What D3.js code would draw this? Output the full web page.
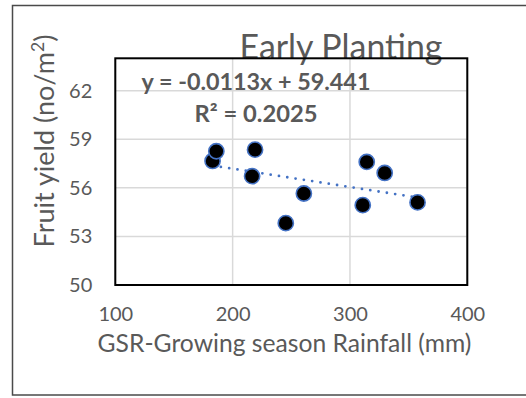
<!DOCTYPE html>
<html><head><meta charset="utf-8">
<script src="https://cdn.jsdelivr.net/npm/d3@7"></script>
<style>body{margin:0;background:#fff}svg{display:block}</style>
</head><body>
<svg id="c" width="526" height="398"></svg>
<script>
const rainfall = [182.9, 186.1, 216.6, 219.1, 245.3, 260.7, 310.9, 314.3, 329.6, 357.6];
const fruitYield = [57.66, 58.26, 56.72, 58.36, 53.82, 55.65, 54.93, 57.6, 56.92, 55.1];
const xTicks = [100, 200, 300, 400];
const yTicks = [50, 53, 56, 59, 62];
const trendSlope = -0.0113;
const trendIntercept = 59.441;
const titleText = "Early Planting";
const eqText = "y = -0.0113x + 59.441";
const r2Text = "R² = 0.2025";
const xTitle = "GSR-Growing season Rainfall (mm)";

const FONT = "Lato, 'Open Sans', sans-serif";
const GRAY = "#595959";
const svg = d3.select("#c");
const x = d3.scaleLinear().domain([100, 400]).range([115.3, 467.3]);
const y = d3.scaleLinear().domain([50, 64]).range([285, 58.3]);

function fit(sel, target) {
  const w = sel.node().getComputedTextLength();
  const fs = parseFloat(sel.attr("font-size"));
  sel.attr("font-size", fs * target / w);
}

// outer border (right edge runs off the picture)
svg.append("rect").attr("x", 12.5).attr("y", 5.5).attr("width", 530).attr("height", 389.5)
  .attr("fill", "#fff").attr("stroke", "#4a4a4a").attr("stroke-width", 1.5);

// gridlines
const g = svg.append("g");
g.selectAll("line.gx").data(xTicks).join("line")
  .attr("x1", d => x(d)).attr("x2", d => x(d)).attr("y1", y(64)).attr("y2", y(50))
  .attr("stroke", "#d9d9d9").attr("stroke-width", 1.5);
g.selectAll("line.gy").data(yTicks).join("line")
  .attr("y1", d => y(d)).attr("y2", d => y(d)).attr("x1", x(100)).attr("x2", x(400))
  .attr("stroke", "#d9d9d9").attr("stroke-width", 1.5);

// axes (labels only)
const xAxis = svg.append("g").attr("transform", `translate(0,${y(50)})`)
  .call(d3.axisBottom(x).tickValues(xTicks).tickSize(0).tickPadding(22));
const yAxis = svg.append("g").attr("transform", `translate(${x(100)},0)`)
  .call(d3.axisLeft(y).tickValues(yTicks).tickSize(0).tickPadding(23));
[xAxis, yAxis].forEach(a => {
  a.select(".domain").remove();
  a.selectAll("text").attr("font-family", FONT).attr("font-size", 20).attr("fill", GRAY);
});

// title (drawn under plot border as in reference)
const t = svg.append("text").attr("x", 341).attr("y", 59).attr("text-anchor", "middle")
  .attr("font-family", FONT).attr("font-size", 28).attr("fill", GRAY).text(titleText);
fit(t, 203);

// plot border
svg.append("rect").attr("x", x(100)).attr("y", y(64)).attr("width", x(400) - x(100)).attr("height", y(50) - y(64))
  .attr("fill", "none").attr("stroke", "#000").attr("stroke-width", 2);

// trendline
const xs = d3.extent(rainfall);
svg.append("line")
  .attr("x1", x(xs[0])).attr("y1", y(trendSlope * xs[0] + trendIntercept))
  .attr("x2", x(xs[1])).attr("y2", y(trendSlope * xs[1] + trendIntercept))
  .attr("stroke", "#4472C4").attr("stroke-width", 2.8).attr("stroke-linecap", "round")
  .attr("stroke-dasharray", "0,8.4");

// points
svg.append("g").selectAll("circle").data(rainfall.map((r, i) => [r, fruitYield[i]])).join("circle")
  .attr("cx", d => x(d[0])).attr("cy", d => y(d[1])).attr("r", 7.6)
  .attr("fill", "#000").attr("stroke", "#4472C4").attr("stroke-width", 1.6);

// equations
const e1 = svg.append("text").attr("x", 256).attr("y", 90).attr("text-anchor", "middle")
  .attr("font-family", FONT).attr("font-weight", "bold").attr("font-size", 19).attr("fill", GRAY).text(eqText);
fit(e1, 229);
const e2 = svg.append("text").attr("x", 256).attr("y", 121.5).attr("text-anchor", "middle")
  .attr("font-family", FONT).attr("font-weight", "bold").attr("font-size", 19).attr("fill", GRAY).text(r2Text);
fit(e2, 123);

// axis titles
const xt = svg.append("text").attr("x", 284.5).attr("y", 351.5).attr("text-anchor", "middle")
  .attr("font-family", FONT).attr("font-size", 19).attr("fill", GRAY).text(xTitle);
fit(xt, 374);
const yt = svg.append("text").attr("transform", "translate(54,141) rotate(-90)").attr("text-anchor", "middle")
  .attr("font-family", FONT).attr("font-size", 19).attr("fill", GRAY);
yt.append("tspan").text("Fruit yield (no/m");
yt.append("tspan").attr("baseline-shift", "super").attr("font-size", "0.65em").text("2");
yt.append("tspan").text(")");
fit(yt, 213);
</script>
</body></html>
